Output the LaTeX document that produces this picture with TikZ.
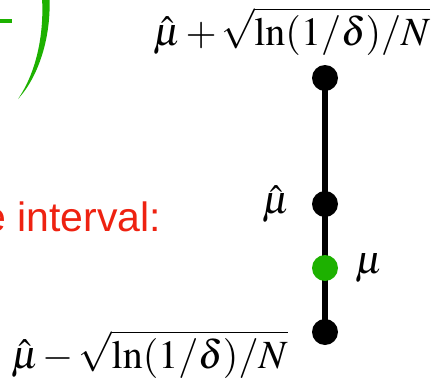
\documentclass[tikz,border=0pt]{standalone}
\usepackage[no-math]{fontspec}
\usepackage{amsmath}
\usepackage{mathptmx}
\newfontfamily\slidefont{Liberation Sans}
\usepackage{tikz}
\usetikzlibrary{positioning, backgrounds}
\definecolor{keygreen}{RGB}{29,177,0}
\definecolor{keyred}{RGB}{238,34,17}
\newcommand{\tightmath}{\medmuskip=2mu\relax}
\newcommand{\bonus}{\sqrt{\smash[b]{\ln(1/\delta)/N}}}

\begin{document}
\begin{tikzpicture}[x=1pt, y=-1pt,
    dot/.style={circle, fill=black, minimum size=26pt, inner sep=0pt},
    lbl/.style={font=\fontsize{40}{48}\selectfont\tightmath, inner sep=0pt},
    spine/.style={line width=6pt},
  ]
    \useasboundingbox (0,0) rectangle (448,378);
    \clip (0,0) rectangle (448,378);

    % bracket remains from the slide
    \draw[keygreen, line width=4pt] (-2,21) -- (12,21);
    \fill[keygreen] (42,-2) .. controls (44,30) and (38,70) .. (18,99)
      .. controls (40,75) and (51,35) .. (49.5,-2) -- cycle;

    \node[font=\slidefont\fontsize{41}{48}\selectfont, text=keyred,
      anchor=base west, inner sep=0pt] (caption) at (-17,231) {e interval:};

    % confidence interval
    \node[dot] (upper) at (325,78) {};
    \node[dot] (est) at (325,204) {};
    \node[dot, fill=keygreen] (true) at (325,268) {};
    \node[dot] (lower) at (325,332) {};

    \begin{scope}[on background layer]
      \draw[spine] (upper.center) -- (lower.center);
    \end{scope}

    \node[lbl, above=10pt of upper, xshift=-33pt] (ucb) {$\hat{\mu} + \bonus$};
    \node[lbl, left=24pt of lower, yshift=-22pt] (lcb) {$\hat{\mu} - \bonus$};
    \node[lbl, left=22pt of est] (estlbl) {$\hat{\mu}$};
    \node[lbl, right=17pt of true] (truelbl) {$\mu$};
  \end{tikzpicture}
\end{document}
